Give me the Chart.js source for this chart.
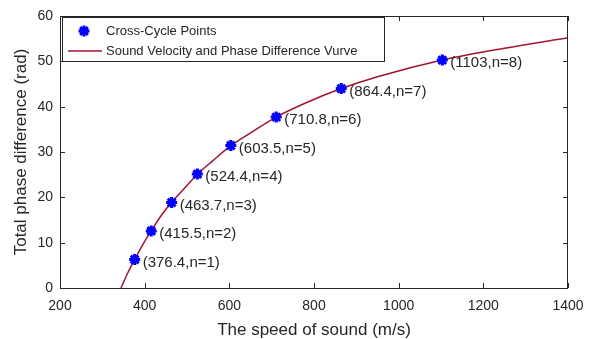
<!DOCTYPE html>
<html>
<head>
<meta charset="utf-8">
<script src="https://cdn.jsdelivr.net/npm/chart.js@4/dist/chart.umd.min.js"></script>
<style>
  html, body { margin: 0; padding: 0; background: #fff; }
  #wrap { width: 595px; height: 339px; }
</style>
</head>
<body>
<div id="wrap"><canvas id="chart" width="595" height="339"></canvas></div>
<script>
// cross-cycle points (speed, phase)
const pointSpeeds = [376.4, 415.5, 463.7, 524.4, 603.5, 710.8, 864.4, 1103];
const pointPhases = [6.28, 12.57, 18.85, 25.13, 31.42, 37.70, 43.98, 50.27];
const pointLabels = ['(376.4,n=1)', '(415.5,n=2)', '(463.7,n=3)', '(524.4,n=4)',
                     '(603.5,n=5)', '(710.8,n=6)', '(864.4,n=7)', '(1103,n=8)'];

// curve
const curveSpeeds = [344, 360, 376.4, 400, 415.5, 440, 463.7, 500, 524.4, 560, 603.5, 650, 710.8, 780, 864.4, 950, 1103, 1250, 1400];
const curvePhases = [0, 3.3, 6.3, 10.3, 12.6, 16.1, 18.9, 22.6, 25.1, 28.0, 31.4, 34.2, 37.7, 40.8, 44.0, 46.6, 50.3, 52.9, 55.2];

const xTicks = [200, 400, 600, 800, 1000, 1200, 1400];
const yTicks = [0, 10, 20, 30, 40, 50, 60];

const axisColor = '#262626';
const fontFam = '"Liberation Sans", Arial, Helvetica, sans-serif';

// box, inward ticks, point labels, legend
const decor = {
    id: 'decor',
    afterDatasetsDraw(chart) {
        const ctx = chart.ctx;
        const a = chart.chartArea;
        const xs = chart.scales.x, ys = chart.scales.y;
        ctx.save();
        ctx.strokeStyle = axisColor;
        ctx.lineWidth = 1;
        ctx.strokeRect(a.left + 0.5, a.top + 0.5, a.right - a.left - 1, a.bottom - a.top);
        ctx.beginPath();
        xTicks.forEach(v => {
            const px = Math.round(xs.getPixelForValue(v)) + 0.5;
            ctx.moveTo(px, a.bottom); ctx.lineTo(px, a.bottom - 5);
            ctx.moveTo(px, a.top); ctx.lineTo(px, a.top + 5);
        });
        yTicks.forEach(v => {
            const py = Math.round(ys.getPixelForValue(v)) + 0.5;
            ctx.moveTo(a.left, py); ctx.lineTo(a.left + 5, py);
            ctx.moveTo(a.right, py); ctx.lineTo(a.right - 5, py);
        });
        ctx.stroke();

        // labels next to points
        ctx.fillStyle = axisColor;
        ctx.font = '15px ' + fontFam;
        ctx.textBaseline = 'middle';
        pointSpeeds.forEach((s, i) => {
            ctx.fillText(pointLabels[i], xs.getPixelForValue(s) + 8, ys.getPixelForValue(pointPhases[i]) + 3);
        });

        // legend
        const lx = a.left + 2, ly = a.top + 1, lw = 322, lh = 44;
        ctx.fillStyle = '#fff';
        ctx.fillRect(lx, ly, lw, lh);
        ctx.strokeStyle = axisColor;
        ctx.strokeRect(lx + 0.5, ly + 0.5, lw, lh);
        const ds = chart.data.datasets;
        ctx.fillStyle = axisColor;
        ctx.font = '13px ' + fontFam;
        ctx.fillText(ds[0].label, lx + 44, ly + 14);
        ctx.fillText(ds[1].label, lx + 44, ly + 34);
        ctx.strokeStyle = '#0000ff';
        ctx.fillStyle = '#0000ff';
        ctx.lineWidth = 3;
        Chart.helpers.drawPoint(ctx, { pointStyle: 'star', radius: 5.5, borderWidth: 3 }, lx + 22, ly + 14);
        ctx.strokeStyle = '#a2142f';
        ctx.lineWidth = 1.5;
        ctx.beginPath();
        ctx.moveTo(lx + 6, ly + 34); ctx.lineTo(lx + 40, ly + 34);
        ctx.stroke();
        ctx.restore();
    }
};

new Chart(document.getElementById('chart'), {
    type: 'scatter',
    data: {
        datasets: [{
            label: 'Cross-Cycle Points',
            data: pointSpeeds.map((s, i) => ({ x: s, y: pointPhases[i] })),
            pointStyle: 'star',
            pointRadius: 5.5,
            borderWidth: 3,
            borderColor: '#0000ff',
            backgroundColor: '#0000ff',
            showLine: false,
            order: 0
        }, {
            label: 'Sound Velocity and Phase Difference Vurve',
            data: curveSpeeds.map((s, i) => ({ x: s, y: curvePhases[i] })),
            showLine: true,
            pointRadius: 0,
            borderColor: '#a2142f',
            borderWidth: 1.5,
            cubicInterpolationMode: 'monotone',
            order: 1
        }]
    },
    options: {
        responsive: false,
        animation: false,
        devicePixelRatio: 1,
        layout: { padding: { top: 16, right: 27, left: 0, bottom: 0 } },
        plugins: { legend: { display: false }, tooltip: { enabled: false } },
        scales: {
            x: {
                type: 'linear', min: 200, max: 1400,
                afterFit(s) { s.height = 51; },
                afterBuildTicks(s) { s.ticks = xTicks.map(v => ({ value: v })); },
                grid: { display: false, drawTicks: false },
                border: { display: false },
                ticks: { padding: 10, color: axisColor, font: { size: 14, family: fontFam },
                         callback: v => String(v) },
                title: { display: true, text: 'The speed of sound (m/s)', color: axisColor,
                         font: { size: 17, family: fontFam, lineHeight: 1 }, padding: { top: 0, bottom: 0 } }
            },
            y: {
                type: 'linear', min: 0, max: 60,
                afterFit(s) { s.width = 60; },
                afterBuildTicks(s) { s.ticks = yTicks.map(v => ({ value: v })); },
                grid: { display: false, drawTicks: false },
                border: { display: false },
                ticks: { padding: 7, color: axisColor, font: { size: 14, family: fontFam },
                         callback: v => String(v) },
                title: { display: true, text: 'Total phase difference (rad)', color: axisColor,
                         font: { size: 17, family: fontFam, lineHeight: 1 }, padding: { top: 13, bottom: 0 } }
            }
        }
    },
    plugins: [decor]
});
</script>
</body>
</html>
